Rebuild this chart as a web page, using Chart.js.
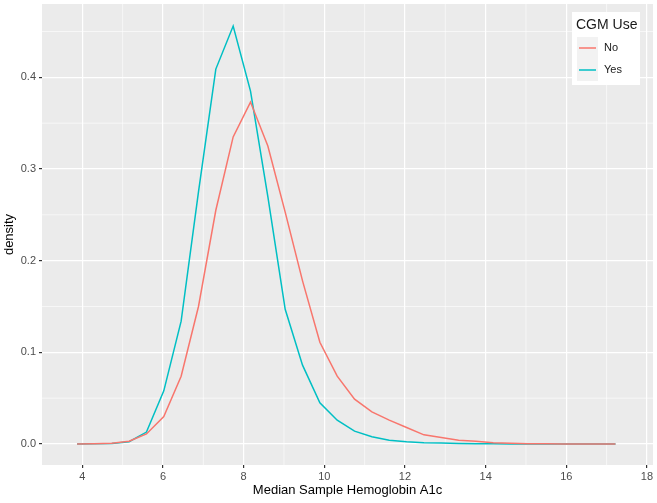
<!DOCTYPE html>
<html lang="en">
<head>
    <meta charset="UTF-8">
    <title>CGM Use density</title>
    <style>
        body {
            margin: 0;
            background: #fff;
        }
        #chart-container {
            width: 657px;
            height: 503px;
        }
    </style>
    <script src="https://cdn.jsdelivr.net/npm/chart.js"></script>
</head>
<body>
    <div id="chart-container">
        <canvas id="densityChart"></canvas>
    </div>

    <script>
        // Median sample HbA1c grid (x) and density per group
        const a1cValues = [3.87, 4.30, 4.73, 5.16, 5.59, 6.02, 6.45, 6.88, 7.31, 7.74, 8.17, 8.60,
            9.03, 9.46, 9.89, 10.32, 10.75, 11.18, 11.61, 12.04, 12.47, 12.90, 13.33, 13.76,
            14.19, 14.62, 15.05, 15.48, 15.91, 16.34, 16.77, 17.22];
        const densityNo = [0.000, 0.0003, 0.0008, 0.003, 0.011, 0.030, 0.074, 0.150, 0.255, 0.335, 0.373, 0.325,
            0.253, 0.178, 0.111, 0.074, 0.049, 0.035, 0.026, 0.018, 0.010, 0.007, 0.004, 0.003,
            0.0015, 0.0008, 0.0004, 0.0002, 0.0001, 0.0001, 0.0, 0.0];
        const densityYes = [0.000, 0.0002, 0.0006, 0.0025, 0.013, 0.058, 0.134, 0.275, 0.409, 0.456, 0.385, 0.270,
            0.147, 0.086, 0.045, 0.026, 0.014, 0.008, 0.004, 0.0025, 0.0015, 0.001, 0.0006, 0.0004,
            0.0002, 0.0001, 0.0001, 0.0, 0.0, 0.0, 0.0, 0.0];
        const groupLabels = ['No', 'Yes'];
        const xTickValues = [4, 6, 8, 10, 12, 14, 16, 18];
        const yTickValues = [0, 0.1, 0.2, 0.3, 0.4];
        const xMinorValues = [5, 7, 9, 11, 13, 15, 17];
        const yMinorValues = [0.05, 0.15, 0.25, 0.35, 0.45];

        const FONT = "'Liberation Sans', Arial, sans-serif";
        const RED = '#F8766D';
        const TEAL = '#00BFC4';

        function toPoints(ys) {
            return ys.map((y, i) => ({ x: a1cValues[i], y: y }));
        }

        // grey panel + minor grid (ggplot theme_gray look)
        const panelPlugin = {
            id: 'panel',
            beforeDraw(chart) {
                const { ctx, chartArea: a, scales } = chart;
                ctx.save();
                ctx.fillStyle = '#EBEBEB';
                ctx.fillRect(a.left, a.top, a.right - a.left, a.bottom - a.top);
                ctx.strokeStyle = '#FFFFFF';
                ctx.lineWidth = 0.6;
                xMinorValues.forEach(v => {
                    const px = scales.x.getPixelForValue(v);
                    ctx.beginPath();
                    ctx.moveTo(px, a.top);
                    ctx.lineTo(px, a.bottom);
                    ctx.stroke();
                });
                yMinorValues.forEach(v => {
                    const py = scales.y.getPixelForValue(v);
                    ctx.beginPath();
                    ctx.moveTo(a.left, py);
                    ctx.lineTo(a.right, py);
                    ctx.stroke();
                });
                ctx.restore();
            }
        };

        // ggplot style legend box in the top right corner
        const legendPlugin = {
            id: 'ggLegend',
            afterDraw(chart) {
                const ctx = chart.ctx;
                const x0 = 572, y0 = 12;
                ctx.save();
                ctx.fillStyle = '#FFFFFF';
                ctx.fillRect(x0, y0, 68, 73);
                ctx.fillStyle = '#1A1A1A';
                ctx.font = '14px ' + FONT;
                ctx.textBaseline = 'middle';
                ctx.textAlign = 'left';
                ctx.fillText('CGM Use', x0 + 4, y0 + 13);
                chart.data.datasets.forEach((ds, i) => {
                    const ky = y0 + 25 + i * 22;
                    ctx.fillStyle = '#F2F2F2';
                    ctx.fillRect(x0 + 5, ky, 21, 22);
                    ctx.strokeStyle = ds.borderColor;
                    ctx.lineWidth = 1.5;
                    ctx.beginPath();
                    ctx.moveTo(x0 + 7, ky + 11);
                    ctx.lineTo(x0 + 24, ky + 11);
                    ctx.stroke();
                    ctx.fillStyle = '#1A1A1A';
                    ctx.font = '11px ' + FONT;
                    ctx.fillText(ds.label, x0 + 32, ky + 11);
                });
                ctx.restore();
            }
        };

        const ctx = document.getElementById('densityChart').getContext('2d');
        new Chart(ctx, {
            type: 'line',
            data: {
                datasets: [
                    {
                        label: groupLabels[0],
                        data: toPoints(densityNo),
                        borderColor: RED,
                        borderWidth: 1.5,
                        pointRadius: 0,
                        fill: false,
                        tension: 0
                    },
                    {
                        label: groupLabels[1],
                        data: toPoints(densityYes),
                        borderColor: TEAL,
                        borderWidth: 1.5,
                        pointRadius: 0,
                        fill: false,
                        tension: 0
                    }
                ]
            },
            options: {
                responsive: true,
                maintainAspectRatio: false,
                animation: false,
                layout: { padding: { top: 4, right: 4, left: 0, bottom: 0 } },
                plugins: {
                    legend: { display: false },
                    tooltip: { enabled: false }
                },
                scales: {
                    x: {
                        type: 'linear',
                        min: 3.0,
                        max: 18.15,
                        afterBuildTicks: s => { s.ticks = xTickValues.map(v => ({ value: v })); },
                        afterFit: s => { s.height = 38; s.paddingLeft = 0; s.paddingRight = 0; },
                        border: { display: false },
                        grid: {
                            color: '#FFFFFF',
                            lineWidth: 1.2,
                            tickColor: '#333333',
                            tickLength: 3
                        },
                        ticks: {
                            color: '#4D4D4D',
                            font: { family: FONT, size: 11 },
                            padding: 2,
                            maxRotation: 0,
                            autoSkip: false
                        },
                        title: {
                            display: true,
                            text: 'Median Sample Hemoglobin A1c',
                            color: '#000000',
                            font: { family: FONT, size: 13 },
                            padding: { top: 0, bottom: 5 }
                        }
                    },
                    y: {
                        type: 'linear',
                        min: -0.0229,
                        max: 0.48,
                        afterBuildTicks: s => { s.ticks = yTickValues.map(v => ({ value: v })); },
                        afterFit: s => { s.width = 42; s.paddingTop = 0; s.paddingBottom = 0; },
                        border: { display: false },
                        grid: {
                            color: '#FFFFFF',
                            lineWidth: 1.2,
                            tickColor: '#333333',
                            tickLength: 3
                        },
                        ticks: {
                            color: '#4D4D4D',
                            font: { family: FONT, size: 11 },
                            padding: 3,
                            autoSkip: false,
                            callback: v => v.toFixed(1)
                        },
                        title: {
                            display: true,
                            text: 'density',
                            color: '#000000',
                            font: { family: FONT, size: 13 },
                            padding: { top: 2, bottom: 0 }
                        }
                    }
                }
            },
            plugins: [panelPlugin, legendPlugin]
        });
    </script>
</body>
</html>
